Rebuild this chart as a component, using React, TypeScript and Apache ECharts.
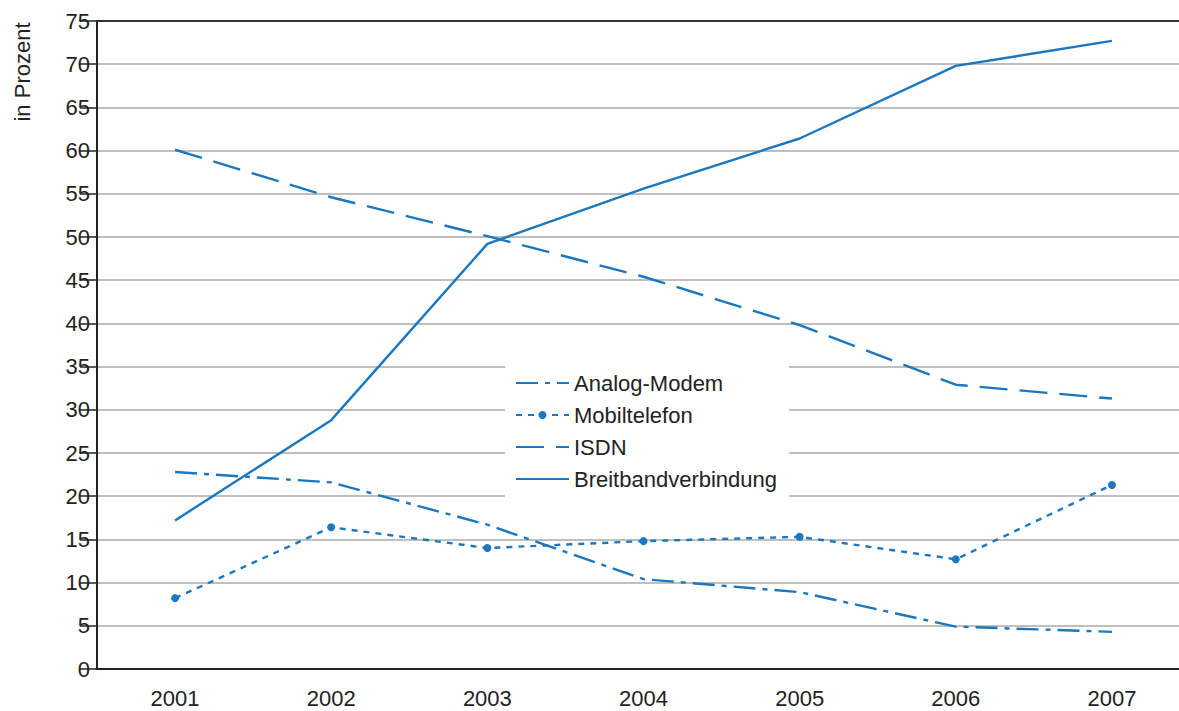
import React, { useEffect, useRef } from "react";
import * as echarts from "echarts";

const years = ["2001", "2002", "2003", "2004", "2005", "2006", "2007"];
const analogModem = [22.8, 21.6, 16.7, 10.4, 8.9, 4.9, 4.3];
const mobiltelefon = [8.2, 16.4, 14.0, 14.8, 15.3, 12.7, 21.3];
const isdn = [60.1, 54.6, 50.1, 45.4, 39.8, 32.9, 31.3];
const breitband = [17.2, 28.8, 49.2, 55.6, 61.4, 69.8, 72.7];
const seriesNames = ["Analog-Modem", "Mobiltelefon", "ISDN", "Breitbandverbindung"];

const BLUE = "#1b77bf";
const INK = "#222";
const FONT = "Liberation Sans, Arial, sans-serif";

export default function App() {
  const ref = useRef<HTMLDivElement>(null);

  useEffect(() => {
    if (!ref.current) return;
    const chart = echarts.init(ref.current, null, { renderer: "svg" });
    const lw = 2.4;
    chart.setOption({
      animation: false,
      backgroundColor: "#fff",
      textStyle: { fontFamily: FONT },
      // the plot runs off the right edge of the visible frame
      grid: { left: 97, top: 21, bottom: 42, right: 0, containLabel: false },
      graphic: [
        {
          type: "text",
          x: 22,
          y: 72,
          rotation: Math.PI / 2,
          style: {
            text: "in Prozent",
            font: `22px ${FONT}`,
            fill: INK,
            align: "center",
            verticalAlign: "middle",
          },
        },
      ],
      legend: {
        orient: "vertical",
        left: 505,
        top: 362,
        padding: [10, 12, 10, 10],
        backgroundColor: "#fff",
        itemWidth: 53,
        itemHeight: 10,
        itemGap: 10,
        textStyle: { fontSize: 22, color: INK, fontFamily: FONT },
        data: seriesNames.map((name) => ({
          name,
          itemStyle: name === "Mobiltelefon" ? { opacity: 1 } : { opacity: 0 },
        })),
      },
      xAxis: [
        {
          type: "category",
          data: years,
          boundaryGap: true,
          axisLine: { lineStyle: { color: INK, width: 2 } },
          axisTick: { alignWithLabel: true, length: 11, lineStyle: { color: INK, width: 1.5 } },
          axisLabel: { fontSize: 22, color: INK, margin: 18, fontFamily: FONT },
          splitLine: { show: false },
        },
        {
          type: "category",
          data: years,
          position: "top",
          axisLine: { lineStyle: { color: "#333", width: 2 } },
          axisTick: { show: false },
          axisLabel: { show: false },
          splitLine: { show: false },
        },
      ],
      yAxis: {
        type: "value",
        min: 0,
        max: 75,
        interval: 5,
        axisLine: { show: true, lineStyle: { color: INK, width: 2 } },
        axisTick: { show: true, length: 17, lineStyle: { color: INK, width: 1.5 } },
        axisLabel: { fontSize: 22, color: INK, margin: 7, fontFamily: FONT },
        splitLine: { show: true, lineStyle: { color: "#aaa", width: 1.5 } },
      },
      series: [
        {
          name: "Analog-Modem",
          type: "line",
          data: analogModem,
          symbol: "none",
          color: BLUE,
          lineStyle: { color: BLUE, width: lw, type: [22, 7, 5, 7] },
        },
        {
          name: "Mobiltelefon",
          type: "line",
          data: mobiltelefon,
          symbol: "circle",
          symbolSize: 8,
          color: BLUE,
          itemStyle: { color: BLUE },
          lineStyle: { color: BLUE, width: lw, type: [6, 6] },
        },
        {
          name: "ISDN",
          type: "line",
          data: isdn,
          symbol: "none",
          color: BLUE,
          lineStyle: { color: BLUE, width: lw, type: [28, 12] },
        },
        {
          name: "Breitbandverbindung",
          type: "line",
          data: breitband,
          symbol: "none",
          color: BLUE,
          lineStyle: { color: BLUE, width: lw, type: "solid" },
        },
      ],
    });
    return () => chart.dispose();
  }, []);

  return (
    <div
      style={{
        position: "fixed",
        left: 0,
        top: 0,
        width: 1179,
        height: 711,
        overflow: "hidden",
        background: "#fff",
      }}
    >
      <div ref={ref} style={{ width: 1190, height: 711 }} />
    </div>
  );
}
